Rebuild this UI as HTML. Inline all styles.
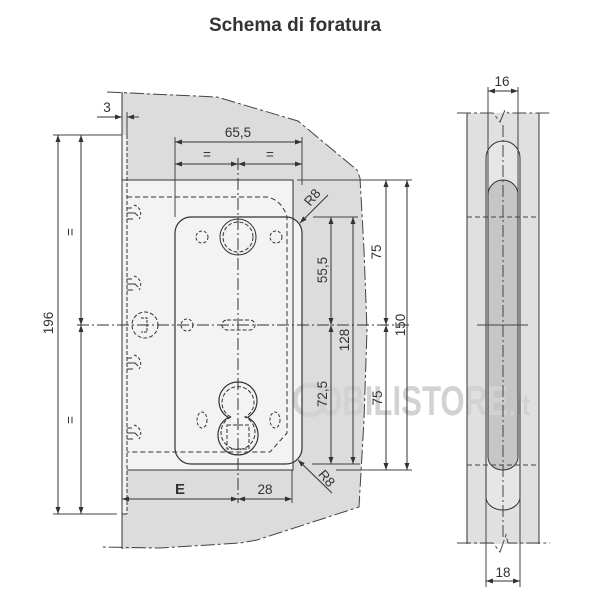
<!DOCTYPE html>
<html><head><meta charset="utf-8"><style>
html,body{margin:0;padding:0;background:#fff;}
svg{display:block;}
text{font-family:"Liberation Sans",Arial,sans-serif;fill:#333;}
</style></head><body>
<svg width="600" height="600" viewBox="0 0 600 600" xmlns="http://www.w3.org/2000/svg">
<defs>
<marker id="a" viewBox="0 0 7 5" refX="7" refY="2.5" markerWidth="7" markerHeight="5" markerUnits="userSpaceOnUse" orient="auto-start-reverse"><path d="M0,0L7,2.5L0,5z" fill="#333"/></marker>
</defs>
<text x="295" y="31" font-size="19" font-weight="bold" text-anchor="middle" fill="#222">Schema di foratura</text>

<!-- main gray body -->
<path d="M122,92 L217,97 L298,121 L357,170 L360,178 L364,250 L367,330 L364,420 L359,507 L257,540 L240,543 L160,548 L122,549 Z" fill="#dcdcdc"/>

<!-- light region -->
<rect x="122" y="180" width="171" height="290" fill="#f3f3f3"/>
<rect x="122" y="135" width="5" height="379" fill="#f3f3f3"/>

<!-- cutout fill -->
<rect x="175" y="217" width="127" height="247" rx="16" fill="#f3f3f3"/>

<!-- side view fills -->
<rect x="467" y="113" width="72" height="431" fill="#e0e0e0"/>
<path d="M486,158 A17,17 0 0 1 520,158 V497 A17,13 0 0 1 486,497 Z" fill="#e6e6e6"/>
<path d="M488,195 A15,15 0 0 1 518,195 V457 A15,13 0 0 1 488,457 Z" fill="#c6c6c6"/>

<!-- watermark (behind lines and text) -->
<g>
<circle cx="310" cy="400" r="15" fill="none" stroke="#d2d2d2" stroke-width="5"/>
<text x="318" y="415" font-size="42" font-weight="bold" style="fill:#d2d2d2" textLength="190" lengthAdjust="spacingAndGlyphs">OBILISTORE</text>
<text x="509" y="415" font-size="30" font-weight="bold" style="fill:#d2d2d2" textLength="21" lengthAdjust="spacingAndGlyphs">.it</text>
</g>

<path d="M107,92 L217,97 L298,121 L357,170 L360,178 L364,250 L367,330 L364,420 L359,507 L257,540 L240,543 L160,548 L100,547" fill="none" stroke="#444" stroke-width="1" stroke-dasharray="14 3 3 3"/>
<g stroke="#333" stroke-width="1" fill="none">
<path d="M122,180 H293 V470 H127"/>
<path d="M122,92 V549"/>
<path d="M122,514 H127"/>
</g>
<path d="M127,135 V514" stroke="#333" stroke-width="1" stroke-dasharray="4 2" fill="none"/>

<!-- cutout outline -->
<rect x="175" y="217" width="127" height="247" rx="16" fill="none" stroke="#333" stroke-width="1.2"/>

<!-- lock body dashed -->
<path d="M127,197 L267,197 Q282,200 287,217 L287,433 L270,452 L127,452" fill="none" stroke="#333" stroke-width="1" stroke-dasharray="5 3"/>

<!-- left hooks -->
<g stroke="#333" stroke-width="1" fill="none">
<g transform="translate(127,208)"><path d="M0,0h5M0,5h8l3,3M0,11h6"/><path d="M7,-3A9,9 0 0 1 12,11" stroke-dasharray="3 2"/></g>
<g transform="translate(127,279)"><path d="M0,0h5M0,5h8l3,3M0,11h6"/><path d="M7,-3A9,9 0 0 1 12,11" stroke-dasharray="3 2"/></g>
<g transform="translate(127,358)"><path d="M0,0h5M0,5h8l3,3M0,11h6"/><path d="M7,-3A9,9 0 0 1 12,11" stroke-dasharray="3 2"/></g>
<g transform="translate(127,428)"><path d="M0,0h5M0,5h8l3,3M0,11h6"/><path d="M7,-3A9,9 0 0 1 12,11" stroke-dasharray="3 2"/></g>
</g>

<!-- holes -->
<g fill="none" stroke="#333" stroke-width="1">
<circle cx="238" cy="237" r="18"/>
<circle cx="238" cy="237" r="15" stroke-dasharray="4 2"/>
<circle cx="202" cy="237" r="6" stroke-dasharray="3 2"/>
<circle cx="276" cy="237" r="6" stroke-dasharray="3 2"/>
<circle cx="145" cy="325" r="13" stroke-dasharray="4 2"/>
<path d="M141,318h6v14h-6" stroke-dasharray="3 1"/>
<circle cx="187" cy="325" r="6" stroke-dasharray="3 2"/>
<rect x="222" y="320" width="33" height="10" rx="5" stroke-dasharray="4 2"/>
<path d="M228.4,417.4 A19,19 0 1 1 247.6,417.4 A20,20 0 1 1 228.4,417.4 Z" stroke-width="1.2"/>
<path d="M231,417 A16,16 0 1 1 245,417 A17,17 0 1 1 231,417 Z" stroke-dasharray="4 2"/>
<rect x="227" y="425" width="22" height="24" stroke-dasharray="4 2"/>
<ellipse cx="202" cy="420" rx="5" ry="8" stroke-dasharray="3 2"/>
<ellipse cx="275" cy="420" rx="5" ry="8" stroke-dasharray="3 2"/>
</g>

<!-- center lines -->
<g stroke="#333" stroke-width="1" stroke-dasharray="12 3 2 3" fill="none">
<path d="M238,158 V503"/>
<path d="M77,325 H410"/>
</g>

<!-- extension lines -->
<g stroke="#444" stroke-width="1" fill="none">
<path d="M175,137 V217"/>
<path d="M302,137 V185"/>
<path d="M127,112 V135"/>
<path d="M53,135 H122"/>
<path d="M53,514 H117"/>
<path d="M292,470 V503"/>
<path d="M313,217 H358"/>
<path d="M312,464 H360"/>
<path d="M297,180 H412"/>
<path d="M336,470 H412"/>
</g>

<!-- dimension lines -->
<g stroke="#333" stroke-width="1" fill="none" marker-start="url(#a)" marker-end="url(#a)">
<path d="M175,142 H302"/>
<path d="M175,164 H238"/>
<path d="M238,164 H302"/>
<path d="M58,135 V514"/>
<path d="M81,135 V325"/>
<path d="M81,325 V514"/>
<path d="M122,499 H238"/>
<path d="M238,499 H292"/>
<path d="M331,217 V325"/>
<path d="M331,325 V464"/>
<path d="M353,217 V464"/>
<path d="M386,180 V325"/>
<path d="M386,325 V470"/>
<path d="M407,180 V470"/>
</g>
<g stroke="#333" stroke-width="1" fill="none" marker-end="url(#a)">
<path d="M97,117 H122"/>
<path d="M139,117 H127"/>
<path d="M328,195 L300,223"/>
<path d="M332,493 L298,460"/>
</g>

<!-- dimension texts -->
<g font-size="13.5" text-anchor="middle">
<text x="238" y="137">65,5</text>
<text x="207" y="159">=</text>
<text x="270" y="159">=</text>
<text x="107" y="112">3</text>
<text x="265" y="494">28</text>
<text transform="translate(53,323) rotate(-90)">196</text>
<text transform="translate(75,232) rotate(-90)">=</text>
<text transform="translate(75,420) rotate(-90)">=</text>
<text transform="translate(327,270) rotate(-90)">55,5</text>
<text transform="translate(327,394) rotate(-90)">72,5</text>
<text transform="translate(349,340) rotate(-90)">128</text>
<text transform="translate(381,252) rotate(-90)">75</text>
<text transform="translate(382,398) rotate(-90)">75</text>
<text transform="translate(405,325) rotate(-90)">150</text>
<text transform="translate(312,197) rotate(-50)" y="5">R8</text>
<text transform="translate(327,478) rotate(50)" y="5">R8</text>
</g>
<text x="180" y="494" font-size="15" font-weight="bold" text-anchor="middle">E</text>

<!-- side view lines -->
<g stroke="#333" stroke-width="1" fill="none">
<path d="M467,113 V544 M539,113 V544"/>
<path d="M486,158 A17,17 0 0 1 520,158 V497 A17,13 0 0 1 486,497 Z"/>
<path d="M488,195 A15,15 0 0 1 518,195 V457 A15,13 0 0 1 488,457 Z"/>
</g>
<g stroke="#444" stroke-width="1" fill="none">
<path d="M488,87 V195 M518,87 V195"/>
<path d="M486,497 V587 M520,497 V587"/>
<path d="M477,325 H528"/>
<path d="M457,113 H493 L500,122 L505,110 L508,113 H550" stroke-dasharray="14 3 3 3"/>
<path d="M457,543 H493 L500,552 L506,535 L508,543 H550" stroke-dasharray="14 3 3 3"/>
<path d="M467,217 H539 M467,465 H539" stroke-dasharray="5 3"/>
<path d="M503,125 V540" stroke-dasharray="12 3 2 3"/>
</g>
<g stroke="#333" stroke-width="1" fill="none" marker-start="url(#a)" marker-end="url(#a)">
<path d="M488,91 H518"/>
<path d="M486,581 H520"/>
</g>
<g font-size="13.5" text-anchor="middle">
<text x="502" y="86">16</text>
<text x="503" y="577">18</text>
</g>
</svg>
</body></html>
